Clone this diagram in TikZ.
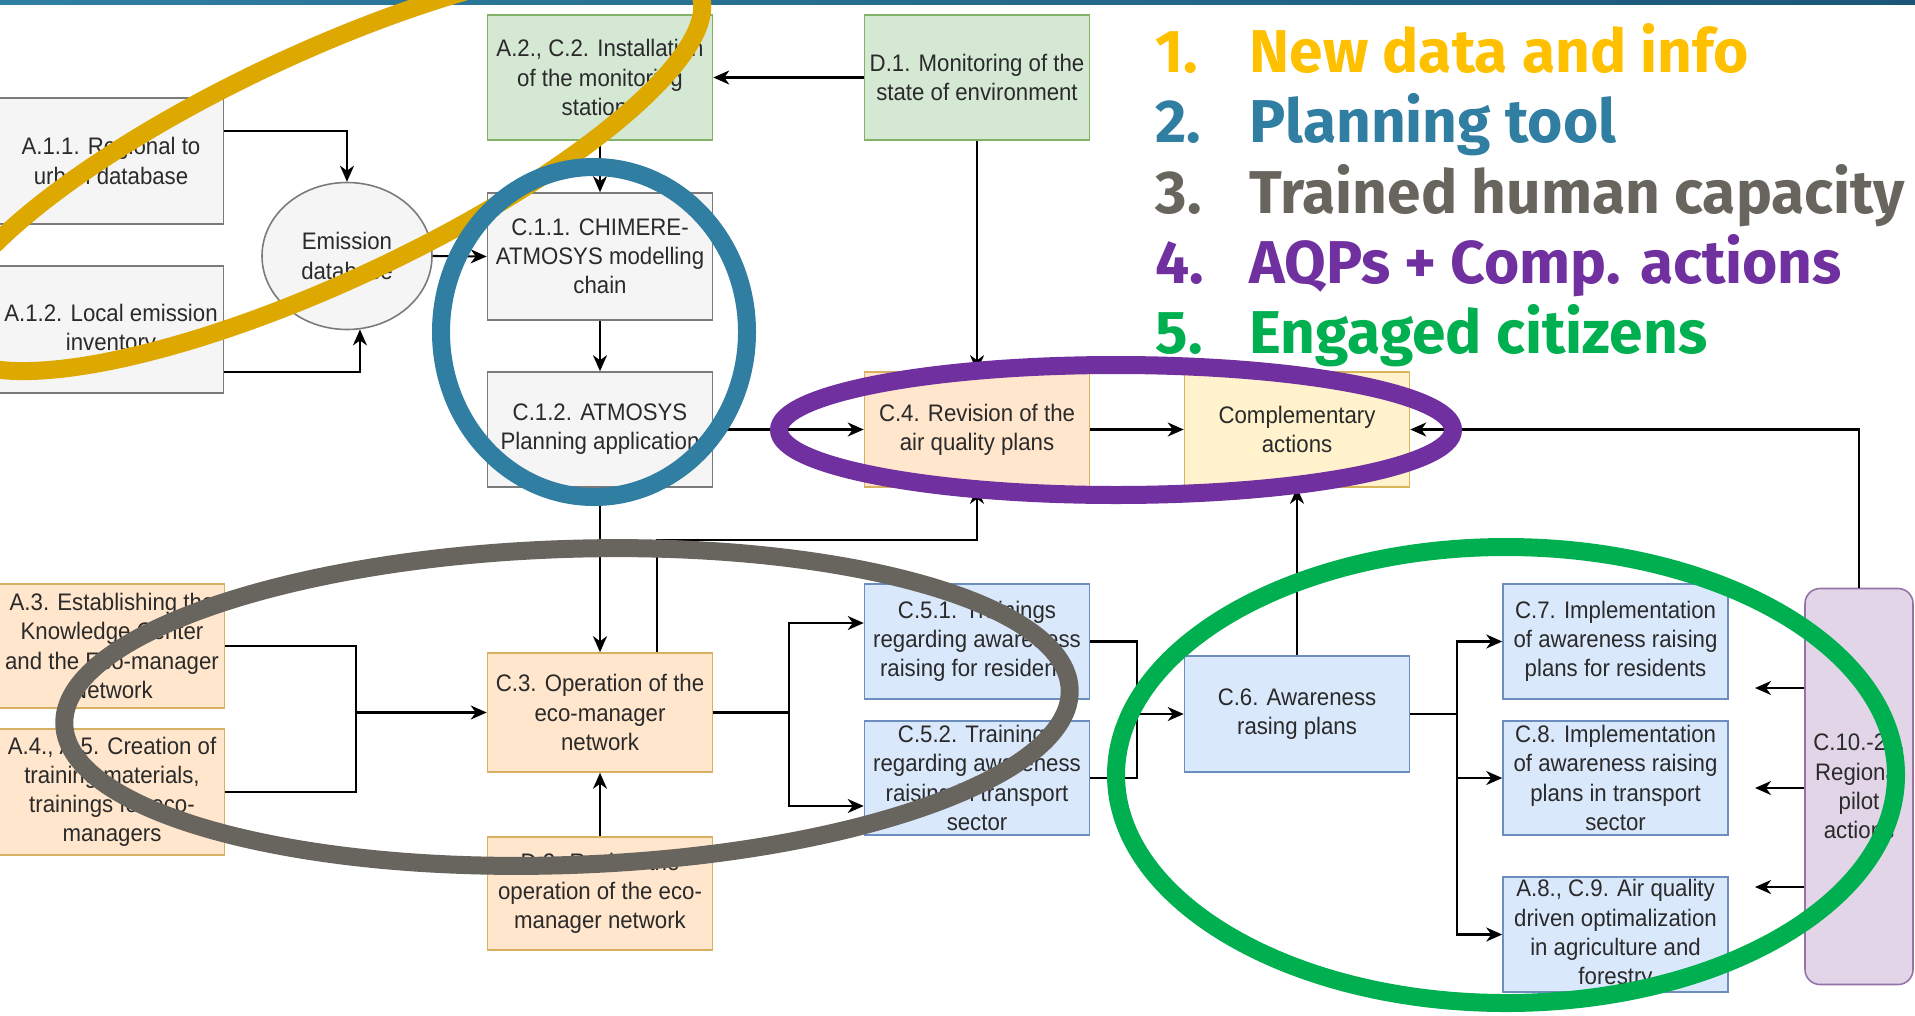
\documentclass[tikz,border=0pt]{standalone}
\usepackage{fontspec}
\usepackage{xcolor}
\usetikzlibrary{positioning,shapes.geometric,arrows.meta,calc}
\newfontfamily\boxfont{Liberation Sans}[FakeStretch=0.93]
\newfontfamily\legendfont{Fira Sans}
\definecolor{boxtext}{HTML}{2A2A2A}
\definecolor{grayfill}{HTML}{F5F5F5}
\definecolor{grayline}{HTML}{7A7A7A}
\definecolor{greenfill}{HTML}{D5E8D4}
\definecolor{greenline}{HTML}{82B366}
\definecolor{peachfill}{HTML}{FFE6CC}
\definecolor{peachline}{HTML}{D7B060}
\definecolor{yellowfill}{HTML}{FFF2CC}
\definecolor{yellowline}{HTML}{D6B656}
\definecolor{bluefill}{HTML}{DAE8FC}
\definecolor{blueline}{HTML}{6C8EBF}
\definecolor{lilacfill}{HTML}{E1D5E7}
\definecolor{lilacline}{HTML}{9673A6}
\definecolor{stripeleft}{HTML}{2F7FA3}
\definecolor{striperight}{HTML}{1B5678}
\definecolor{ringyellow}{HTML}{DDA800}
\definecolor{ringblue}{HTML}{317EA3}
\definecolor{ringgray}{HTML}{68655E}
\definecolor{ringpurple}{HTML}{7030A0}
\definecolor{ringgreen}{HTML}{00B050}
\definecolor{legyellow}{HTML}{FFC000}

\begin{document}
\begin{tikzpicture}[
    box/.style={rectangle, line width=0.45pt, minimum width=2.25cm, inner sep=0pt, align=center, text=boxtext, font=\boxfont\fontsize{6.8}{8.3}\selectfont},
    graybox/.style={box, draw=grayline, fill=grayfill},
    greenbox/.style={box, draw=greenline, fill=greenfill},
    peachbox/.style={box, draw=peachline, fill=peachfill},
    yellowbox/.style={box, draw=yellowline, fill=yellowfill},
    bluebox/.style={box, draw=blueline, fill=bluefill},
    pilotbox/.style={box, draw=lilacline, fill=lilacfill, rounded corners=1.5mm},
    dbnode/.style={ellipse, line width=0.45pt, draw=grayline, fill=grayfill, inner sep=0pt, align=center, text=boxtext, font=\boxfont\fontsize{6.8}{8.3}\selectfont},
    arr/.style={line width=0.6pt, -{Stealth[length=1.6mm, width=1.4mm, inset=0.5mm]}},
    wire/.style={line width=0.6pt},
    ring/.style={line width=1.8mm},
    legend/.style={anchor=base west, inner sep=0pt, font=\legendfont\bfseries\fontsize{17.2}{20.8}\selectfont}
]

% Page
\clip (0,0) rectangle (19.15,10.15);
\fill[white] (0,0) rectangle (19.15,10.15);
\fill[left color=stripeleft, right color=striperight] (0,10.105) rectangle (19.15,10.15);

% Data and modelling
\node[graybox, minimum height=1.26cm] (a11) at (1.11,8.54) {A.1.1. Regional to\\urban database};
\node[graybox, minimum height=1.27cm] (a12) at (1.11,6.855) {A.1.2. Local emission\\inventory};
\node[dbnode, minimum width=1.70cm, minimum height=1.47cm] (emis) at (3.47,7.59) {Emission\\database};
\node[greenbox, minimum height=1.25cm] (a2) at (6.00,9.375) {A.2., C.2. Installation\\of the monitoring\\stations};
\node[greenbox, minimum height=1.25cm] (d1) at (9.77,9.375) {D.1. Monitoring of the\\state of environment};
\node[graybox, minimum height=1.27cm] (c11) at (6.00,7.585) {C.1.1. CHIMERE-\\ATMOSYS modelling\\chain};
\node[graybox, minimum height=1.15cm] (c12) at (6.00,5.855) {C.1.2. ATMOSYS\\Planning application};
\node[peachbox, minimum height=1.15cm] (c4) at (9.77,5.855) {C.4. Revision of the\\air quality plans};
\node[yellowbox, minimum height=1.15cm] (comp) at (12.97,5.855) {Complementary\\actions};

% Eco-manager network
\node[peachbox, minimum height=1.24cm] (a3) at (1.12,3.69) {A.3. Establishing the\\Knowledge Center\\and the Eco-manager\\Network};
\node[peachbox, minimum height=1.26cm] (a4) at (1.12,2.23) {A.4., A.5. Creation of\\training materials,\\trainings for eco-\\managers};
\node[peachbox, minimum height=1.19cm] (c3) at (6.00,3.025) {C.3. Operation of the\\eco-manager\\network};
\node[peachbox, minimum height=1.13cm] (d2) at (6.00,1.215) {D.2. Review the\\operation of the eco-\\manager network};

% Awareness raising
\node[bluebox, minimum height=1.15cm] (c51) at (9.77,3.735) {C.5.1. Trainings\\regarding awareness\\raising for residents};
\node[bluebox, minimum height=1.14cm] (c52) at (9.77,2.37) {C.5.2. Trainings\\regarding awareness\\raising in transport\\sector};
\node[bluebox, minimum height=1.16cm] (c6) at (12.97,3.01) {C.6. Awareness\\rasing plans};
\node[bluebox, minimum height=1.15cm] (c7) at (16.155,3.735) {C.7. Implementation\\of awareness raising\\plans for residents};
\node[bluebox, minimum height=1.14cm] (c8) at (16.155,2.37) {C.8. Implementation\\of awareness raising\\plans in transport\\sector};
\node[bluebox, minimum height=1.15cm] (a8) at (16.155,0.805) {A.8., C.9. Air quality\\driven optimalization\\in agriculture and\\forestry};
\node[pilotbox, minimum width=1.08cm, minimum height=3.96cm] (c10) at (18.59,2.285) {C.10.-21.\\Regional\\pilot\\actions};

% Junctions
\coordinate (jA) at (3.56,3.025);
\coordinate (jB) at (7.89,3.025);
\coordinate (jC) at (11.37,3.01);
\coordinate (jD) at (14.57,3.01);
\coordinate (jE) at (9.77,4.75);
\coordinate (p7) at (17.55,3.27);
\coordinate (p8) at (17.55,2.27);
\coordinate (p9) at (17.55,1.28);

% Connectors
\draw[arr] ([yshift=3mm]a11.east) -| (emis.north);
\draw[arr] ([yshift=-4.25mm]a12.east) -| (emis.-80);
\draw[arr] (emis.east) -- (c11.west);
\draw[arr] (d1.west) -- (a2.east);
\draw[arr] (a2.south) -- (c11.north);
\draw[arr] (c11.south) -- (c12.north);
\draw[arr] (d1.south) -- (c4.north);
\draw[arr] (c12.east) -- (c4.west);
\draw[arr] (c4.east) -- (comp.west);
\draw[arr] (c12.south) -- (c3.north);
\draw[arr] ([xshift=5.7mm]c3.north) |- (jE) -- (c4.south);
\draw[arr] (d2.north) -- (c3.south);
\draw[wire] (a3.east) -| (jA);
\draw[wire] (a4.east) -| (jA);
\draw[arr] (jA) -- (c3.west);
\draw[wire] (c3.east) -- (jB);
\draw[arr] (jB) |- ([yshift=1.85mm]c51.west);
\draw[arr] (jB) |- ([yshift=-2.8mm]c52.west);
\draw[wire] (c51.east) -| (jC);
\draw[wire] (c52.east) -| (jC);
\draw[arr] (jC) -- (c6.west);
\draw[arr] (c6.north) -- (comp.south);
\draw[wire] (c6.east) -- (jD);
\draw[arr] (jD) |- (c7.west);
\draw[arr] (jD) |- (c8.west);
\draw[arr] (jD) |- (a8.west);
\draw[arr] (c10.west |- p7) -- (p7);
\draw[arr] (c10.west |- p8) -- (p8);
\draw[arr] (c10.west |- p9) -- (p9);
\draw[arr] (c10.north) |- (comp.east);

% Highlight rings
\draw[ring, ringyellow, rotate around={25:(3.23,8.475)}] (3.23,8.475) ellipse (4.15cm and 1.14cm);
\draw[ring, ringblue] (5.94,6.83) ellipse (1.53cm and 1.65cm);
\draw[ring, ringpurple] (11.16,5.85) ellipse (3.37cm and 0.65cm);
\draw[ring, ringgray, rotate around={2:(5.67,3.08)}] (5.67,3.08) ellipse (5.03cm and 1.58cm);
\draw[ring, ringgreen] (15.06,2.40) ellipse (3.90cm and 2.28cm);

% Legend
\node[legend, text=legyellow] (leg1) at (11.55,9.43) {\makebox[0.94cm][l]{1.}New data and info};
\node[legend, text=ringblue] (leg2) at (11.55,8.73) {\makebox[0.94cm][l]{2.}Planning tool};
\node[legend, text=ringgray] (leg3) at (11.55,8.02) {\makebox[0.94cm][l]{3.}Trained human capacity};
\node[legend, text=ringpurple] (leg4) at (11.55,7.32) {\makebox[0.94cm][l]{4.}AQPs + Comp. actions};
\node[legend, text=ringgreen] (leg5) at (11.55,6.62) {\makebox[0.94cm][l]{5.}Engaged citizens};

\end{tikzpicture}
\end{document}
